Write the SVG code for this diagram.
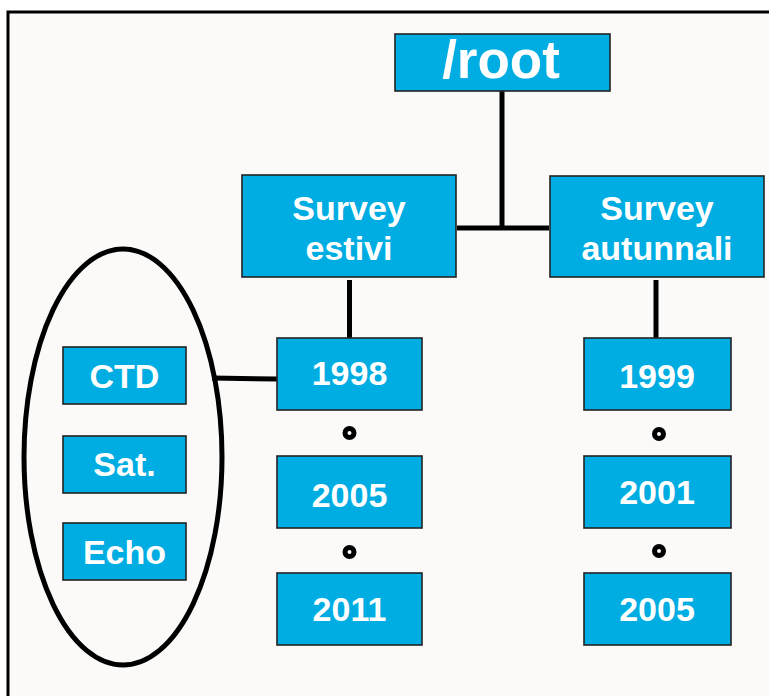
<svg xmlns="http://www.w3.org/2000/svg" width="769" height="696" viewBox="0 0 769 696">
<style>
.box{fill:#00ADE2;stroke:#222;stroke-width:1.6}
.t{font-family:"Liberation Sans",Arial,sans-serif;font-weight:bold;fill:#fff;text-anchor:middle}
.m{font-size:34px}
.conn{stroke:#000;stroke-width:5;fill:none}
.dot{fill:none;stroke:#000;stroke-width:5}
</style>
<rect x="0" y="0" width="769" height="696" fill="#fff"/>
<rect x="8" y="12" width="800" height="720" fill="#FBFAF9" stroke="#000" stroke-width="3"/>
<g id="connectors">
<line class="conn" x1="502" y1="91" x2="502" y2="228"/>
<line class="conn" x1="457" y1="228" x2="549" y2="228"/>
<line class="conn" x1="349.5" y1="280" x2="349.5" y2="338"/>
<line class="conn" x1="656" y1="280" x2="656" y2="338"/>
<line class="conn" x1="212" y1="378" x2="277" y2="379"/>
<circle class="dot" cx="349.5" cy="433" r="4.5"/>
<circle class="dot" cx="349.5" cy="552" r="4.5"/>
<circle class="dot" cx="659" cy="434" r="4.5"/>
<circle class="dot" cx="659" cy="551" r="4.5"/>
</g>
<g id="root">
<rect class="box" x="395" y="34" width="215" height="57"/>
<text class="t" x="501" y="78" font-size="53">/root</text>
</g>
<g id="survey-estivi">
<rect class="box" x="242" y="175" width="214" height="102"/>
<text class="t m" x="349" y="220">Survey</text>
<text class="t m" x="349" y="260">estivi</text>
</g>
<g id="survey-autunnali">
<rect class="box" x="550" y="176" width="214" height="101"/>
<text class="t m" x="657" y="220">Survey</text>
<text class="t m" x="657" y="260">autunnali</text>
</g>
<g id="y1998">
<rect class="box" x="277" y="338" width="145" height="72"/>
<text class="t m" x="349.5" y="385">1998</text>
</g>
<g id="y2005a">
<rect class="box" x="277" y="456" width="145" height="72"/>
<text class="t m" x="349.5" y="507">2005</text>
</g>
<g id="y2011">
<rect class="box" x="277" y="573" width="145" height="72"/>
<text class="t m" x="349.5" y="621">2011</text>
</g>
<g id="y1999">
<rect class="box" x="584" y="338" width="147" height="72"/>
<text class="t m" x="657" y="388">1999</text>
</g>
<g id="y2001">
<rect class="box" x="584" y="456" width="147" height="72"/>
<text class="t m" x="657" y="504">2001</text>
</g>
<g id="y2005b">
<rect class="box" x="584" y="573" width="147" height="72"/>
<text class="t m" x="657" y="621">2005</text>
</g>
<g id="group-ellipse">
<ellipse cx="123" cy="457" rx="99" ry="208" fill="none" stroke="#000" stroke-width="5"/>
</g>
<g id="ctd">
<rect class="box" x="63" y="347" width="123" height="57"/>
<text class="t m" x="124.5" y="388">CTD</text>
</g>
<g id="sat">
<rect class="box" x="63" y="436" width="123" height="57"/>
<text class="t m" x="124.5" y="476">Sat.</text>
</g>
<g id="echo">
<rect class="box" x="63" y="523" width="123" height="57"/>
<text class="t m" x="124.5" y="564">Echo</text>
</g>
</svg>
